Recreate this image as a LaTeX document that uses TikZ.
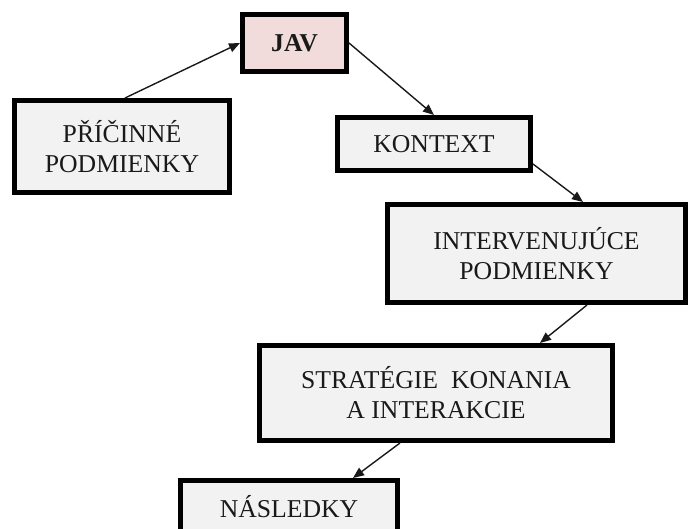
\documentclass[tikz,border=0pt]{standalone}
\usepackage{fontspec}
\setmainfont{Liberation Serif}
\usetikzlibrary{arrows.meta}
\definecolor{boxgray}{HTML}{F2F2F2}
\definecolor{javpink}{HTML}{F2DCDB}
\begin{document}
\begin{tikzpicture}[x=1pt,y=-1pt,
  box/.style={draw=black, line width=5pt, fill=boxgray, align=center,
    inner sep=0pt, text=black!90, font=\fontsize{25.7}{30}\selectfont},
  link/.style={draw=black!90, line width=1.4pt,
    -{Triangle[length=11pt,width=9pt]}}]
\clip (0,0) rectangle (690,528);

% boxes
\node[box, fill=javpink, minimum width=104pt, minimum height=57pt,
  font=\fontsize{25.7}{30}\selectfont\bfseries] (jav) at (294.5,43) {JAV};
\node[box, minimum width=215pt, minimum height=92pt] (pri) at (122,146.5)
  {PŘÍČINNÉ\\PODMIENKY};
\node[box, minimum width=193pt, minimum height=53pt] (kon) at (434,144)
  {KONTEXT};
\node[box, minimum width=298pt, minimum height=98pt] (int) at (536.5,253.5)
  {INTERVENUJÚCE\\PODMIENKY};
\node[box, minimum width=353pt, minimum height=95pt] (str) at (436,393)
  {STRATÉGIE\ \ KONANIA\\A INTERAKCIE};
\node[box, minimum width=217pt, minimum height=53pt] (nas) at (289,507)
  {NÁSLEDKY};

% connectors
\draw[link] ([xshift=3pt]pri.north) -- (jav.west);
\draw[link] (jav.east) -- (kon.north);
\draw[link] ([yshift=9pt]kon.south east) -- ([xshift=46.5pt]int.north);
\draw[link] ([xshift=50.5pt]int.south) -- ([xshift=104pt]str.north);
\draw[link] ([xshift=-36pt]str.south) -- ([xshift=64pt]nas.north);
\end{tikzpicture}
\end{document}
